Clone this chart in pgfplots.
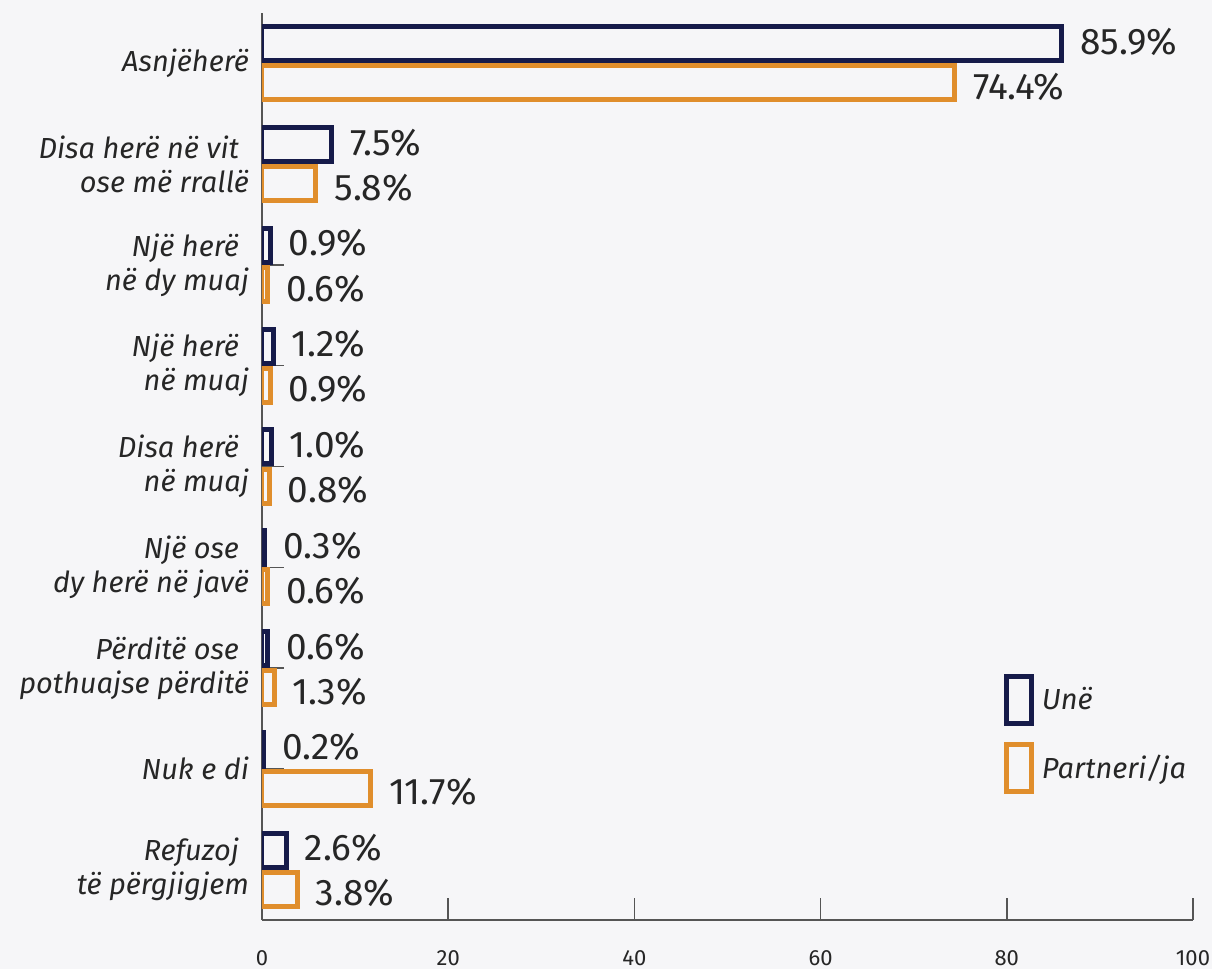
\documentclass[border=0pt]{standalone}
\usepackage{fontspec}
\setmainfont{Fira Sans}
\usepackage{pgfplots}
\pgfplotsset{compat=1.18}
\usetikzlibrary{backgrounds}
\definecolor{navy}{HTML}{161B4A}
\definecolor{orng}{HTML}{E08E2C}
\definecolor{bg}{HTML}{F6F6F8}
\definecolor{txt}{HTML}{262626}
\definecolor{axgray}{HTML}{555555}
\begin{document}
\begin{tikzpicture}
\begin{axis}[
  scale only axis, width=465.5pt, height=453.5pt,
  xmin=0, xmax=100, ymin=-0.5, ymax=8.5,
  xbar, bar width=0.337,
  axis lines*=left,
  axis line style={-, draw=axgray, line width=0.75pt},
  xtick pos=lower, ytick pos=left,
  xtick align=inside, ytick align=inside,
  tick style={draw=axgray, line width=0.75pt},
  major tick length=11pt,
  xtick={0,20,40,60,80,100},
  ytick={0,1,2,3,4,5,6,7,8},
  yticklabels={
    {Refuzoj\hspace*{5pt}\\të përgjigjem},
    {Nuk e di},
    {Përditë ose\hspace*{5pt}\\pothuajse përditë},
    {Një ose\hspace*{5pt}\\dy herë në javë},
    {Disa herë\hspace*{5pt}\\në muaj},
    {Një herë\hspace*{5pt}\\në muaj},
    {Një herë\hspace*{5pt}\\në dy muaj},
    {Disa herë në vit\hspace*{5pt}\\ose më rrallë},
    {Asnjëherë}},
  /pgf/number format/assume math mode=true,
  xticklabel style={font=\fontsize{11}{13}\selectfont, text=txt, yshift=-12pt},
  yticklabel style={align=right, font=\itshape\fontsize{14.5}{17}\selectfont, text=txt, xshift=-3pt},
  point meta=x,
  nodes near coords={\pgfmathprintnumber[fixed,fixed zerofill,precision=1]{\pgfplotspointmeta}\%},
  nodes near coords style={anchor=west, inner sep=0pt, xshift=8pt, font=\fontsize{18.5}{20}\selectfont, text=txt},
  legend style={at={(rel axis cs:0.79,0.276)}, anchor=north west, draw=none, fill=none,
    font=\itshape\fontsize{14.5}{17}\selectfont, text=txt, row sep=8pt,
    /tikz/every odd column/.append style={column sep=2pt}},
  legend cell align=left,
]
\addplot[draw=navy, fill=none, line width=2.5pt, bar shift=0.194,
  nodes near coords style={yshift=1pt},
  legend image code/.code={\draw[navy, line width=2.5pt] (0pt,-11.75pt) rectangle (12.5pt,11.75pt);}]
  coordinates {(2.6,0) (0.2,1) (0.6,2) (0.3,3) (1.0,4) (1.2,5) (0.9,6) (7.5,7) (85.9,8)};
\addlegendentry{Unë}
\addplot[draw=orng, fill=none, line width=2.5pt, bar shift=-0.194,
  nodes near coords style={yshift=-2pt},
  legend image code/.code={\draw[orng, line width=2.5pt] (0pt,-11.75pt) rectangle (12.5pt,11.75pt);}]
  coordinates {(3.8,0) (11.7,1) (1.3,2) (0.6,3) (0.8,4) (0.9,5) (0.6,6) (5.8,7) (74.4,8)};
\addlegendentry{Partneri/ja}
\coordinate (O) at (rel axis cs:0,0);
\end{axis}
\begin{scope}[on background layer]
\fill[bg, shift={(O)}] (-131pt,-24.5pt) rectangle ++(606pt,484.5pt);
\end{scope}
\pgfresetboundingbox
\path[use as bounding box, shift={(O)}] (-131pt,-24.5pt) rectangle ++(606pt,484.5pt);
\end{tikzpicture}
\end{document}
